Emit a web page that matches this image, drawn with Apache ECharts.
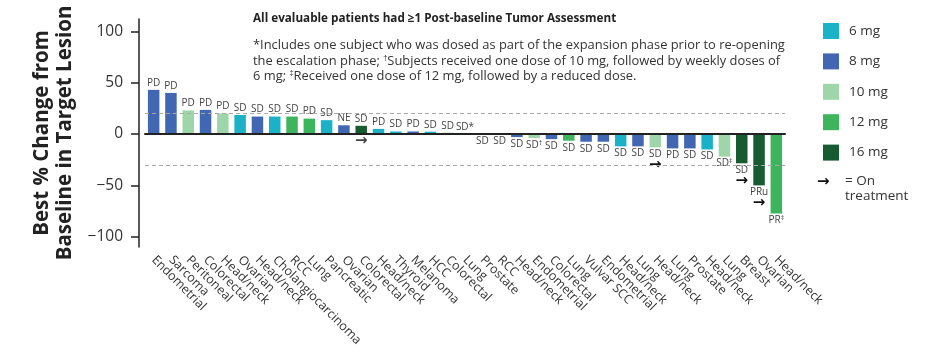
<!DOCTYPE html>
<html>
<head>
<meta charset="utf-8">
<script src="https://cdn.jsdelivr.net/npm/echarts@6/dist/echarts.min.js"></script>
<style>
  html, body { margin: 0; padding: 0; background: #fff; }
  #chart { width: 925px; height: 354px; }
</style>
</head>
<body>
<div id="chart"></div>
<script>
const categories = ['Endometrial', 'Sarcoma', 'Peritoneal', 'Colorectal', 'Head/neck', 'Ovarian',
  'Head/neck', 'Cholangiocarcinoma', 'RCC', 'Lung', 'Pancreatic', 'Ovarian', 'Colorectal',
  'Head/neck', 'Thyroid', 'Melanoma', 'HCC', 'Colorectal', 'Lung', 'Prostate', 'RCC',
  'Head/neck', 'Endometrial', 'Colorectal', 'Lung', 'Vulvar SCC', 'Endometrial', 'Head/neck',
  'Lung', 'Head/neck', 'Lung', 'Prostate', 'Head/neck', 'Lung', 'Breast', 'Ovarian', 'Head/neck'];

const values = [43, 40, 23, 23.5, 20, 18.5, 17, 17, 17, 15, 13.5, 8.5, 8, 5, 2.5, 2.5, 2.3, 1.3,
  0.3, -0.3, -0.3, -3, -4, -5, -6.5, -7.5, -7.5, -12, -12, -13, -14, -14, -15, -22, -28.5, -50, -77.5];

const doses = ['8 mg', '8 mg', '10 mg', '8 mg', '10 mg', '6 mg', '8 mg', '6 mg', '12 mg', '12 mg',
  '6 mg', '8 mg', '16 mg', '6 mg', '6 mg', '8 mg', '6 mg', '10 mg', '6 mg', '6 mg', '6 mg',
  '8 mg', '10 mg', '8 mg', '12 mg', '8 mg', '8 mg', '6 mg', '8 mg', '10 mg', '8 mg', '8 mg',
  '6 mg', '10 mg', '16 mg', '16 mg', '12 mg'];

const responses = ['PD', 'PD', 'PD', 'PD', 'PD', 'SD', 'SD', 'SD', 'SD', 'PD', 'SD', 'NE', 'SD',
  'PD', 'SD', 'PD', 'SD', 'SD', 'SD*', 'SD', 'SD', 'SD', 'SD†', 'SD', 'SD', 'SD', 'SD', 'SD',
  'SD', 'SD', 'PD', 'SD', 'SD', 'SD‡', 'SD', 'PRu', 'PR‡'];

const onTreatment = [12, 29, 34, 35]; // category indexes with the arrow

const doseLevels = ['6 mg', '8 mg', '10 mg', '12 mg', '16 mg'];
const doseColors = ['#1bb2c8', '#4267b2', '#9fd6a9', '#3cb55d', '#175c31'];

const yTicks = [-100, -50, 0, 50, 100];

const font = 'Open Sans';

const rich = {
  t: { fontSize: 10, color: '#444', fontFamily: font, lineHeight: 12 },
  s: { fontSize: 7, color: '#444', fontFamily: font, verticalAlign: 'top', lineHeight: 12 },
  a: { fontSize: 15, color: '#111', fontWeight: 'bold', fontFamily: 'DejaVu Sans', lineHeight: 10 }
};

function resText(r) {
  const m = r.match(/^(.*?)([†‡])$/);
  return m ? '{t|' + m[1] + '}{s|' + m[2] + '}' : '{t|' + r + '}';
}

const chart = echarts.init(document.getElementById('chart'));

const barSeries = doseLevels.map((d, k) => ({
  name: d,
  type: 'bar',
  stack: 'all',
  barWidth: 11.5,
  itemStyle: { color: doseColors[k] },
  data: values.map((v, i) => doses[i] !== d ? '-' : {
    value: v,
    label: {
      show: true,
      position: v >= 0 ? 'top' : 'bottom',
      distance: 1,
      formatter: resText(responses[i]) + (v < 0 && onTreatment.includes(i) ? '\n{a|→}' : ''),
      rich: rich
    }
  })
}));

barSeries[0].markLine = {
  silent: true,
  symbol: 'none',
  label: { show: false },
  data: [
    { yAxis: 20, lineStyle: { color: '#aaa', type: [4, 3], width: 1 } },
    { yAxis: -30, lineStyle: { color: '#aaa', type: [4, 3], width: 1 } },
    { yAxis: 0, lineStyle: { color: '#222', type: 'solid', width: 2 } }
  ]
};

// arrows under positive bars that are still on treatment
const arrowSeries = {
  type: 'scatter',
  symbolSize: 0,
  silent: true,
  data: onTreatment.filter(i => values[i] >= 0).map(i => [i, 0]),
  label: {
    show: true,
    position: 'bottom',
    distance: 2,
    formatter: '{a|→}',
    rich: rich
  }
};

const option = {
  animation: false,
  textStyle: { fontFamily: font },
  grid: { left: 145, right: 140, top: 19, bottom: 107 },
  legend: {
    data: doseLevels,
    orient: 'vertical',
    left: 818,
    top: 18,
    icon: 'rect',
    itemWidth: 16,
    itemHeight: 16,
    itemGap: 14.4,
    selectedMode: false,
    textStyle: { fontSize: 13.5, color: '#333', fontFamily: font, padding: [0, 0, 0, 5] }
  },
  xAxis: {
    type: 'category',
    data: categories,
    axisLine: { lineStyle: { color: '#222', width: 2 } },
    axisTick: { show: false },
    axisLabel: { interval: 0, rotate: -45, fontSize: 12.5, color: '#333', margin: 11, fontFamily: font }
  },
  yAxis: {
    type: 'value',
    min: -110,
    max: 112,
    offset: 6,
    splitLine: { show: false },
    axisLine: { show: true, lineStyle: { color: '#222', width: 1.5 } },
    axisTick: { show: true, length: 8, customValues: yTicks, lineStyle: { color: '#222', width: 1.5 } },
    axisLabel: {
      customValues: yTicks,
      fontSize: 15.5,
      color: '#333',
      margin: 16,
      fontFamily: font,
      formatter: v => String(v).replace('-', '\u2212')
    },
    name: 'Best % Change from\nBaseline in Target Lesion',
    nameLocation: 'middle',
    nameRotate: 90,
    nameGap: 58,
    nameTextStyle: { fontSize: 20.5, fontWeight: 'bold', color: '#222', lineHeight: 23, fontFamily: font }
  },
  graphic: [
    {
      type: 'text', left: 253, top: 13,
      style: {
        text: 'All evaluable patients had \u22651 Post-baseline Tumor Assessment',
        font: 'bold 11.7px "Open Sans"', fill: '#222'
      }
    },
    {
      type: 'text', left: 253, top: 38,
      style: {
        text: '*Includes one subject who was dosed as part of the expansion phase prior to re-opening\n' +
          'the escalation phase; {s|†}Subjects received one dose of 10 mg, followed by weekly doses of\n' +
          '6 mg; {s|‡}Received one dose of 12 mg, followed by a reduced dose.',
        font: '12.9px "Open Sans"', fill: '#333', lineHeight: 15.5,
        rich: { s: { fontSize: 7.5, verticalAlign: 'top', fill: '#333', lineHeight: 15.5 } }
      }
    },
    {
      type: 'text', left: 817, top: 175,
      style: { text: '→', font: 'bold 15px "DejaVu Sans"', fill: '#111' }
    },
    {
      type: 'text', left: 845, top: 174,
      style: { text: '= On\ntreatment', font: '13.5px "Open Sans"', fill: '#333', lineHeight: 15 }
    }
  ],
  series: [...barSeries, arrowSeries]
};

chart.setOption(option);
</script>
</body>
</html>
